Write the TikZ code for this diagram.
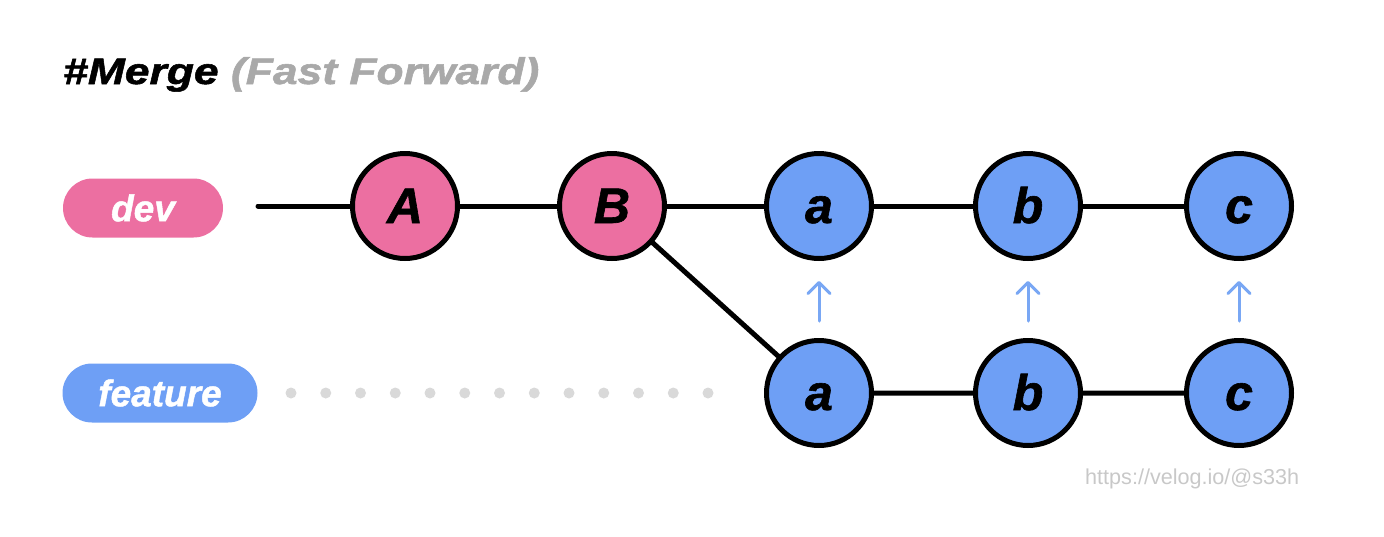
\documentclass[tikz,border=0pt]{standalone}
\usepackage{fontspec}
\usetikzlibrary{arrows.meta,positioning,shapes.misc}
\setmainfont{Liberation Sans}
\newfontfamily\heavyfont{Liberation Sans}[FakeStretch=1.2, FakeBold=1.5]
\newfontfamily\blackfont{Liberation Sans}[FakeBold=1.2]
\definecolor{devpink}{HTML}{EC6FA1}
\definecolor{featblue}{HTML}{6E9FF5}
\definecolor{arrowblue}{HTML}{79A7F4}
\definecolor{dotgray}{HTML}{D9D9D9}
\definecolor{titlegray}{HTML}{A9A9A9}
\definecolor{markgray}{HTML}{C8C8C8}

\begin{document}
\begin{tikzpicture}[
  x=1pt, y=-1pt,
  commit/.style={circle, draw, line width=5pt, minimum size=105pt, inner sep=0pt,
    text height=34pt, text depth=0pt,
    font=\blackfont\fontsize{50}{50}\selectfont\bfseries\itshape},
  oldcommit/.style={commit, fill=devpink},
  newcommit/.style={commit, fill=featblue},
  branch/.style={rounded rectangle, minimum height=59pt, inner sep=0pt, text=white,
    font=\blackfont\fontsize{37}{37}\selectfont\bfseries\itshape},
  link/.style={line width=5pt, line cap=round},
  moved/.style={draw=arrowblue, line width=3pt, line cap=round,
    -{Straight Barb[length=11pt, width=22pt, line cap=round, line join=round]},
    shorten <=17pt, shorten >=20pt}
]
\useasboundingbox (0,0) rectangle (1384,536);

\node[anchor=base west, inner sep=0pt] (title) at (63,84)
  {\heavyfont\fontsize{37}{37}\selectfont\bfseries\itshape \#Merge \textcolor{titlegray}{(Fast Forward)}};

% branch labels
\node[branch, fill=devpink, minimum width=160pt] (dev) at (143,208) {dev};
\node[branch, fill=featblue, minimum width=195pt] (feature) at (160,393) {feature};

% commits
\node[oldcommit] (A) at (405,206) {A};
\node[oldcommit] (B) at (612,206) {B};
\node[newcommit] (da) at (819,206) {a};
\node[newcommit] (db) at (1028,206) {b};
\node[newcommit] (dc) at (1239,206) {c};
\node[newcommit] (fa) at (819,393) {a};
\node[newcommit] (fb) at (1028,393) {b};
\node[newcommit] (fc) at (1239,393) {c};

\coordinate (start) at (258,206);
\draw[link] (start) -- (A) -- (B) -- (da) -- (db) -- (dc);
\draw[link] (B) -- (fa) -- (fb) -- (fc);

\foreach \i in {0,...,12}
  \fill[dotgray] (291+34.75*\i,393) circle[radius=5.5pt];

\foreach \c in {a,b,c}
  \draw[moved] (f\c) -- (d\c);

\node[anchor=base west, inner sep=0pt, text=markgray, font=\fontsize{21.6}{21.6}\selectfont] (credit) at (1085,484) {https://velog.io/@s33h};
\end{tikzpicture}
\end{document}
